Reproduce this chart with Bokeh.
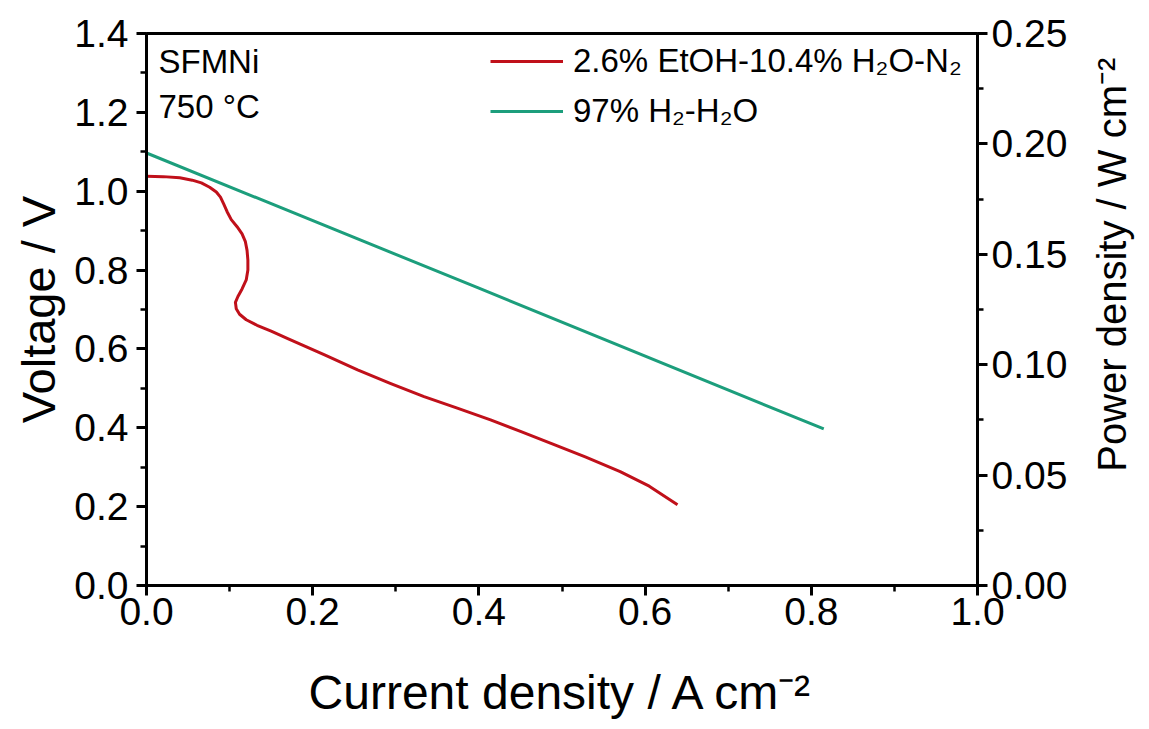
import math
from bokeh.plotting import figure
from bokeh.layouts import row
from bokeh.models import (Range1d, LinearAxis, FixedTicker, PrintfTickFormatter,
                          Legend, LegendItem, Label)
from bokeh.embed import file_html
from bokeh.resources import INLINE

# ---- data ----
etoh_j = [0.000, 0.020, 0.040, 0.055, 0.066, 0.076, 0.084, 0.089, 0.093, 0.097,
          0.102, 0.109, 0.115, 0.119, 0.121, 0.122, 0.122, 0.120, 0.115, 0.110,
          0.107, 0.108, 0.112, 0.120, 0.133, 0.150, 0.170, 0.185, 0.215, 0.254,
          0.294, 0.334, 0.374, 0.414, 0.450, 0.486, 0.528, 0.570, 0.605, 0.639]
etoh_v = [1.038, 1.037, 1.034, 1.028, 1.021, 1.010, 0.998, 0.985, 0.967, 0.948,
          0.928, 0.910, 0.892, 0.872, 0.850, 0.825, 0.800, 0.775, 0.752, 0.733,
          0.718, 0.702, 0.688, 0.674, 0.660, 0.645, 0.626, 0.612, 0.584, 0.547,
          0.512, 0.479, 0.450, 0.420, 0.391, 0.361, 0.326, 0.289, 0.252, 0.205]
h2_j = [0.000, 0.400, 0.815]
h2_v = [1.097, 0.754, 0.397]

x_ticks = [0.0, 0.2, 0.4, 0.6, 0.8, 1.0]
x_minor = [0.1, 0.3, 0.5, 0.7, 0.9]
v_ticks = [0.0, 0.2, 0.4, 0.6, 0.8, 1.0, 1.2, 1.4]
v_minor = [0.1, 0.3, 0.5, 0.7, 0.9, 1.1, 1.3]
p_ticks = [0.0, 0.05, 0.10, 0.15, 0.20, 0.25]
p_minor = [0.025, 0.075, 0.125, 0.175, 0.225]

series_labels = ["2.6% EtOH-10.4% H\u2082O-N\u2082", "97% H\u2082-H\u2082O"]
notes = ["SFMNi", "750 \u00b0C"]
x_title = "Current density / A cm\u207b\u00b2"
y_title = "Voltage / V"
y2_title = "Power density / W cm\u207b\u00b2"

RED = "#C0101A"
GREEN = "#1C9E7C"
FONT = "Liberation Sans"

p = figure(width=1078, height=721, output_backend="svg", toolbar_location=None,
           x_range=Range1d(0, 1.0), y_range=Range1d(0, 1.4),
           min_border_left=146, min_border_right=101, min_border_top=33,
           min_border_bottom=135)
p.background_fill_color = "white"
p.border_fill_color = "white"
p.grid.visible = False
p.outline_line_color = "black"
p.outline_line_width = 3
p.outline_line_alpha = 1.0

p.extra_y_ranges = {"pd": Range1d(0, 0.25)}
right = LinearAxis(y_range_name="pd")
p.add_layout(right, "right")

r1 = p.line(etoh_j, etoh_v, line_color=RED, line_width=3, line_join="round")
r2 = p.line(h2_j, h2_v, line_color=GREEN, line_width=3, line_join="round")

xa = p.xaxis[0]
ya = p.yaxis[0]
xa.ticker = FixedTicker(ticks=x_ticks, minor_ticks=x_minor)
ya.ticker = FixedTicker(ticks=v_ticks, minor_ticks=v_minor)
right.ticker = FixedTicker(ticks=p_ticks, minor_ticks=p_minor)
xa.formatter = PrintfTickFormatter(format="%.1f")
ya.formatter = PrintfTickFormatter(format="%.1f")
right.formatter = PrintfTickFormatter(format="%.2f")

xa.axis_label = x_title
ya.axis_label = y_title

for ax in (xa, ya, right):
    ax.axis_line_width = 3
    ax.axis_line_color = "black"
    ax.major_tick_line_width = 3
    ax.minor_tick_line_width = 2.5
    ax.major_tick_in = 0
    ax.major_tick_out = 10
    ax.minor_tick_in = 0
    ax.minor_tick_out = 6
    ax.major_label_text_font = FONT
    ax.major_label_text_font_size = "39px"
    ax.major_label_text_color = "black"
    ax.axis_label_text_font = FONT
    ax.axis_label_text_font_size = "48px"
    ax.axis_label_text_font_style = "normal"
    ax.axis_label_text_color = "black"

ya.axis_label_text_font_size = "47px"
xa.major_label_standoff = 2
xa.axis_label_standoff = 38
ya.major_label_standoff = 8
ya.axis_label_standoff = 6
right.major_label_standoff = 4

legend = Legend(items=[LegendItem(label=series_labels[0], renderers=[r1]),
                       LegendItem(label=series_labels[1], renderers=[r2])],
                location=(344, 454), orientation="vertical",
                glyph_width=73, glyph_height=40, label_standoff=10, spacing=10,
                padding=0, margin=0, border_line_color=None,
                background_fill_alpha=0.0,
                label_text_font=FONT, label_text_font_size="33px",
                label_text_color="black")
p.add_layout(legend)

p.add_layout(Label(x=0.0144, y=1.329, text=notes[0], text_font=FONT,
                   text_font_size="33px", text_color="black",
                   text_baseline="alphabetic"))
p.add_layout(Label(x=0.0144, y=1.215, text=notes[1], text_font=FONT,
                   text_font_size="33px", text_color="black",
                   text_baseline="alphabetic"))

# narrow strip on the right that carries the power-density title,
# reading bottom-to-top as in the reference
side = figure(width=63, height=721, output_backend="svg", toolbar_location=None,
              x_range=Range1d(0, 63), y_range=Range1d(0, 721),
              x_axis_type=None, y_axis_type=None,
              min_border_left=0, min_border_right=0, min_border_top=0,
              min_border_bottom=0)
side.grid.visible = False
side.outline_line_color = None
side.background_fill_color = "white"
side.border_fill_color = "white"
side.add_layout(Label(x=33, y=419, text=y2_title, angle=math.pi / 2,
                      text_font=FONT, text_font_size="40px", text_color="black",
                      text_align="center", text_baseline="middle"))

layout = row(p, side, spacing=0)
open("out.html", "w").write(file_html(layout, INLINE))
